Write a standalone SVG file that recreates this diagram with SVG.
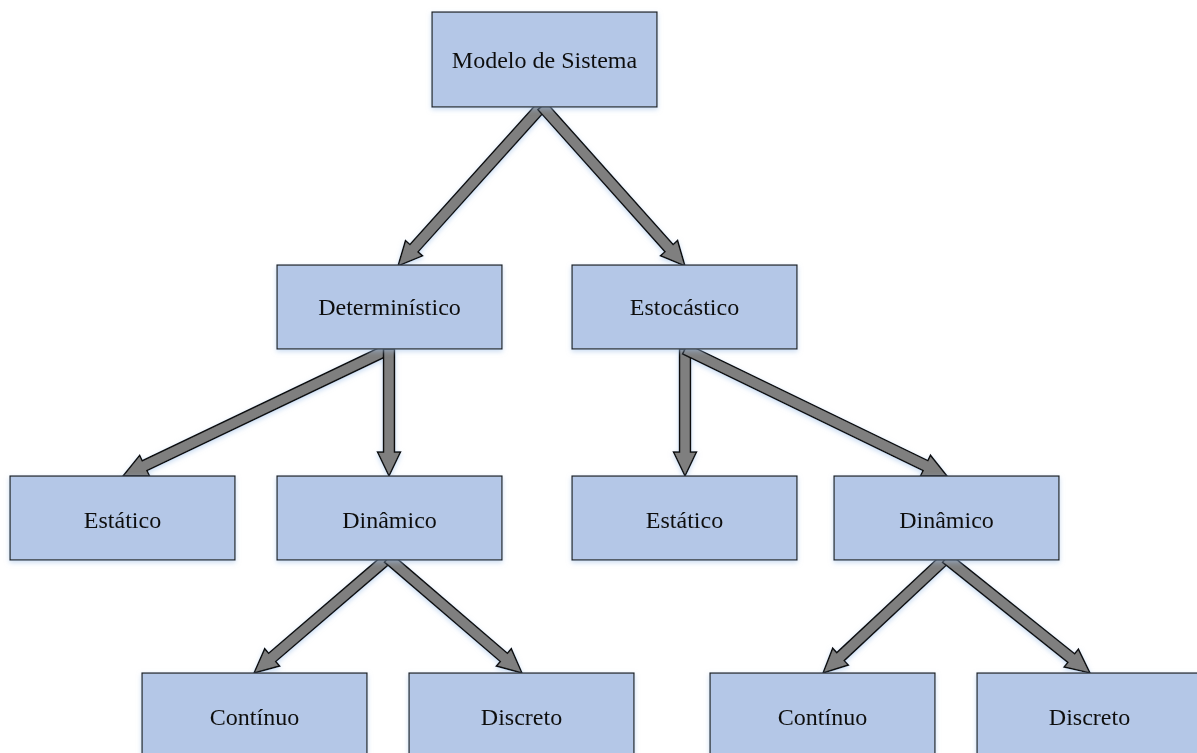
<svg xmlns="http://www.w3.org/2000/svg" width="1197" height="753" viewBox="0 0 1197 753">
  <style>
    .box { fill: #b4c7e7; stroke: #1a1a1a; stroke-width: 1.2; }
    .lbl { font-family: "Liberation Serif", "Times New Roman", serif; font-size: 24px; fill: #111; text-anchor: middle; dominant-baseline: central; }
    .arr { fill: #7f7f7f; stroke: #111; stroke-width: 1.5; stroke-linejoin: miter; }
  </style>
  <defs>
    <filter id="glow" x="-10%" y="-10%" width="120%" height="130%">
      <feGaussianBlur in="SourceAlpha" stdDeviation="2.5"/>
      <feOffset dx="0" dy="2" result="b"/>
      <feFlood flood-color="#9fc0e8" flood-opacity="0.55"/>
      <feComposite in2="b" operator="in"/>
      <feMerge><feMergeNode/><feMergeNode in="SourceGraphic"/></feMerge>
    </filter>
  </defs>
  <rect width="1197" height="753" fill="#ffffff"/>

  <g id="connectors" filter="url(#glow)">
    <!-- block arrows: each drawn along +x then rotated into place -->
    <path class="arr" transform="translate(542,106) rotate(131.99)" d="M0,-5.5 L191.3,-5.5 L191.3,-11.5 L215.3,0 L191.3,11.5 L191.3,5.5 L0,5.5 Z"/>
    <path class="arr" transform="translate(542,106) rotate(48.21)" d="M0,-5.5 L190.6,-5.5 L190.6,-11.5 L214.6,0 L190.6,11.5 L190.6,5.5 L0,5.5 Z"/>
    <path class="arr" transform="translate(389,349) rotate(154.48)" d="M0,-5.5 L270.8,-5.5 L270.8,-11.5 L294.8,0 L270.8,11.5 L270.8,5.5 L0,5.5 Z"/>
    <path class="arr" transform="translate(389,349) rotate(90)" d="M0,-5.5 L103,-5.5 L103,-11.5 L127,0 L103,11.5 L103,5.5 L0,5.5 Z"/>
    <path class="arr" transform="translate(685,349) rotate(90)" d="M0,-5.5 L103,-5.5 L103,-11.5 L127,0 L103,11.5 L103,5.5 L0,5.5 Z"/>
    <path class="arr" transform="translate(685,349) rotate(25.86)" d="M0,-5.5 L267.2,-5.5 L267.2,-11.5 L291.2,0 L267.2,11.5 L267.2,5.5 L0,5.5 Z"/>
    <path class="arr" transform="translate(388,558) rotate(139.37)" d="M0,-5.5 L152.6,-5.5 L152.6,-11.5 L176.6,0 L152.6,11.5 L152.6,5.5 L0,5.5 Z"/>
    <path class="arr" transform="translate(388,558) rotate(40.63)" d="M0,-5.5 L152.6,-5.5 L152.6,-11.5 L176.6,0 L152.6,11.5 L152.6,5.5 L0,5.5 Z"/>
    <path class="arr" transform="translate(946,558) rotate(136.92)" d="M0,-5.5 L144.4,-5.5 L144.4,-11.5 L168.4,0 L144.4,11.5 L144.4,5.5 L0,5.5 Z"/>
    <path class="arr" transform="translate(946,558) rotate(38.62)" d="M0,-5.5 L160.3,-5.5 L160.3,-11.5 L184.3,0 L160.3,11.5 L160.3,5.5 L0,5.5 Z"/>
  </g>

  <g id="modelo" filter="url(#glow)">
    <rect class="box" x="432" y="12" width="225" height="95"/>
    <text class="lbl" x="544.5" y="60">Modelo de Sistema</text>
  </g>
  <g id="deterministico" filter="url(#glow)">
    <rect class="box" x="277" y="265" width="225" height="84"/>
    <text class="lbl" x="389.5" y="307">Determinístico</text>
  </g>
  <g id="estocastico" filter="url(#glow)">
    <rect class="box" x="572" y="265" width="225" height="84"/>
    <text class="lbl" x="684.5" y="307">Estocástico</text>
  </g>
  <g id="det-estatico" filter="url(#glow)">
    <rect class="box" x="10" y="476" width="225" height="84"/>
    <text class="lbl" x="122.5" y="520">Estático</text>
  </g>
  <g id="det-dinamico" filter="url(#glow)">
    <rect class="box" x="277" y="476" width="225" height="84"/>
    <text class="lbl" x="389.5" y="520">Dinâmico</text>
  </g>
  <g id="est-estatico" filter="url(#glow)">
    <rect class="box" x="572" y="476" width="225" height="84"/>
    <text class="lbl" x="684.5" y="520">Estático</text>
  </g>
  <g id="est-dinamico" filter="url(#glow)">
    <rect class="box" x="834" y="476" width="225" height="84"/>
    <text class="lbl" x="946.5" y="520">Dinâmico</text>
  </g>
  <g id="det-continuo" filter="url(#glow)">
    <rect class="box" x="142" y="673" width="225" height="90"/>
    <text class="lbl" x="254.5" y="717">Contínuo</text>
  </g>
  <g id="det-discreto" filter="url(#glow)">
    <rect class="box" x="409" y="673" width="225" height="90"/>
    <text class="lbl" x="521.5" y="717">Discreto</text>
  </g>
  <g id="est-continuo" filter="url(#glow)">
    <rect class="box" x="710" y="673" width="225" height="90"/>
    <text class="lbl" x="822.5" y="717">Contínuo</text>
  </g>
  <g id="est-discreto" filter="url(#glow)">
    <rect class="box" x="977" y="673" width="225" height="90"/>
    <text class="lbl" x="1089.5" y="717">Discreto</text>
  </g>
</svg>
